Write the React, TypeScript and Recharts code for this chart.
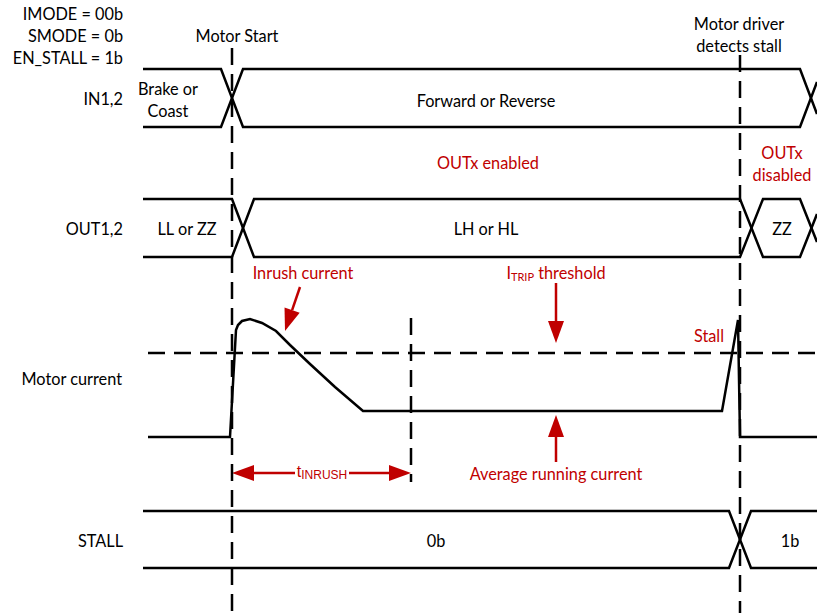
import { LineChart, Line, XAxis, YAxis, Customized } from "recharts"

// time axis (px-like units) and signal levels for each row
const in12A = [{ t: 143, v: 69 }, { t: 221, v: 69 }, { t: 243, v: 127 }, { t: 800, v: 127 }, { t: 817, v: 82 }]
const in12B = [{ t: 143, v: 127 }, { t: 221, v: 127 }, { t: 243, v: 69 }, { t: 800, v: 69 }, { t: 817, v: 114 }]
const out12A = [{ t: 143, v: 199 }, { t: 232, v: 199 }, { t: 254, v: 257 }, { t: 740, v: 257 }, { t: 763, v: 199 }, { t: 800, v: 199 }, { t: 817, v: 242 }]
const out12B = [{ t: 143, v: 257 }, { t: 232, v: 257 }, { t: 254, v: 199 }, { t: 740, v: 199 }, { t: 763, v: 257 }, { t: 800, v: 257 }, { t: 817, v: 214 }]
const current = [
  { t: 148, v: 437 }, { t: 230, v: 437 }, { t: 236, v: 330 }, { t: 238, v: 325 }, { t: 242, v: 321 },
  { t: 250, v: 319 }, { t: 262, v: 323 }, { t: 276, v: 331 }, { t: 290, v: 345 }, { t: 310, v: 364 },
  { t: 335, v: 387 }, { t: 363, v: 411 }, { t: 722, v: 411 }, { t: 738, v: 320 }, { t: 740, v: 437 }, { t: 817, v: 437 },
]
const stallA = [{ t: 143, v: 511 }, { t: 729, v: 511 }, { t: 751, v: 568 }, { t: 817, v: 568 }]
const stallB = [{ t: 143, v: 568 }, { t: 729, v: 568 }, { t: 751, v: 511 }, { t: 817, v: 511 }]
const threshold = [{ t: 148, v: 353 }, { t: 817, v: 353 }]
const motorStart = [{ t: 232, v: 48 }, { t: 232, v: 613 }]
const stallDetect = [{ t: 740, v: 55 }, { t: 740, v: 613 }]
const inrushEnd = [{ t: 411, v: 318 }, { t: 411, v: 482 }]

const labels = [
  { t: 123, v: 13, text: "IMODE = 00b", anchor: "end", color: "#000" },
  { t: 123, v: 35, text: "SMODE = 0b", anchor: "end", color: "#000" },
  { t: 123, v: 57, text: "EN_STALL = 1b", anchor: "end", color: "#000" },
  { t: 237, v: 35, text: "Motor Start", anchor: "middle", color: "#000" },
  { t: 739, v: 23, text: "Motor driver", anchor: "middle", color: "#000" },
  { t: 739, v: 45, text: "detects stall", anchor: "middle", color: "#000" },
  { t: 123, v: 98, text: "IN1,2", anchor: "end", color: "#000" },
  { t: 168, v: 88, text: "Brake or", anchor: "middle", color: "#000" },
  { t: 168, v: 110, text: "Coast", anchor: "middle", color: "#000" },
  { t: 486, v: 100, text: "Forward or Reverse", anchor: "middle", color: "#000" },
  { t: 488, v: 162, text: "OUTx enabled", anchor: "middle", color: "#C00000" },
  { t: 782, v: 152, text: "OUTx", anchor: "middle", color: "#C00000" },
  { t: 782, v: 174, text: "disabled", anchor: "middle", color: "#C00000" },
  { t: 123, v: 228, text: "OUT1,2", anchor: "end", color: "#000" },
  { t: 187, v: 228, text: "LL or ZZ", anchor: "middle", color: "#000" },
  { t: 486, v: 228, text: "LH or HL", anchor: "middle", color: "#000" },
  { t: 782, v: 228, text: "ZZ", anchor: "middle", color: "#000" },
  { t: 303, v: 272, text: "Inrush current", anchor: "middle", color: "#C00000" },
  { t: 709, v: 335, text: "Stall", anchor: "middle", color: "#C00000" },
  { t: 122, v: 378, text: "Motor current", anchor: "end", color: "#000" },
  { t: 556, v: 473, text: "Average running current", anchor: "middle", color: "#C00000" },
  { t: 123, v: 540, text: "STALL", anchor: "end", color: "#000" },
  { t: 436, v: 540, text: "0b", anchor: "middle", color: "#000" },
  { t: 790, v: 540, text: "1b", anchor: "middle", color: "#000" },
]

// red annotation arrows: tail -> tip
const arrows = [
  { t1: 300, v1: 287, t2: 285, v2: 331 },
  { t1: 556, v1: 283, t2: 556, v2: 343 },
  { t1: 556, v1: 462, t2: 556, v2: 415 },
  { t1: 295, v1: 473, t2: 232, v2: 473 },
  { t1: 349, v1: 473, t2: 411, v2: 473 },
]

const RED = "#C00000"
const FONT = "Lato, 'Open Sans', sans-serif"
const FS = 16.3

function Annotations() {
  return (
    <g>
      {arrows.map((a, i) => {
        const dx = a.t2 - a.t1
        const dy = a.v2 - a.v1
        const len = Math.sqrt(dx * dx + dy * dy)
        const ux = dx / len
        const uy = dy / len
        const hl = 22
        const hw = 8
        const bx = a.t2 - ux * hl
        const by = a.v2 - uy * hl
        const pts = `${a.t2},${a.v2} ${bx - uy * hw},${by + ux * hw} ${bx + uy * hw},${by - ux * hw}`
        return (
          <g key={i}>
            <line x1={a.t1} y1={a.v1} x2={bx} y2={by} stroke={RED} strokeWidth={2.5} />
            <polygon points={pts} fill={RED} />
          </g>
        )
      })}
      {labels.map((l, i) => (
        <text key={i} x={l.t} y={l.v} textAnchor={l.anchor as any} dominantBaseline="central" fill={l.color} fontSize={FS} fontFamily={FONT}>
          {l.text}
        </text>
      ))}
      <text x={556} y={272} textAnchor="middle" dominantBaseline="central" fill={RED} fontSize={FS} fontFamily={FONT}>
        I<tspan fontSize={11} dy={4}>TRIP</tspan><tspan dy={-4}> threshold</tspan>
      </text>
      <text x={322} y={471} textAnchor="middle" dominantBaseline="central" fill={RED} fontSize={16} fontFamily="'Liberation Sans', Arial, sans-serif">
        t<tspan fontSize={12} dy={4}>INRUSH</tspan>
      </text>
    </g>
  )
}

const solid = {
  stroke: "#000",
  strokeWidth: 2.5,
  dot: false,
  activeDot: false,
  legendType: "none" as const,
  isAnimationActive: false,
  type: "linear" as const,
}
const dashed = { ...solid, strokeDasharray: "17 9" }

export default function App() {
  return (
    <div style={{ position: "absolute", left: 0, top: 0, background: "#fff" }}>
      <LineChart width={817} height={613} margin={{ top: 0, right: 0, bottom: 0, left: 0 }}>
        <XAxis dataKey="t" type="number" domain={[0, 817]} hide />
        <YAxis type="number" domain={[0, 613]} reversed hide />
        <Line data={in12A} dataKey="v" {...solid} />
        <Line data={in12B} dataKey="v" {...solid} />
        <Line data={out12A} dataKey="v" {...solid} />
        <Line data={out12B} dataKey="v" {...solid} />
        <Line data={current} dataKey="v" {...solid} />
        <Line data={stallA} dataKey="v" {...solid} />
        <Line data={stallB} dataKey="v" {...solid} />
        <Line data={threshold} dataKey="v" {...dashed} />
        <Line data={motorStart} dataKey="v" {...dashed} />
        <Line data={stallDetect} dataKey="v" {...dashed} />
        <Line data={inrushEnd} dataKey="v" {...dashed} />
        <Customized component={Annotations} />
      </LineChart>
    </div>
  )
}
